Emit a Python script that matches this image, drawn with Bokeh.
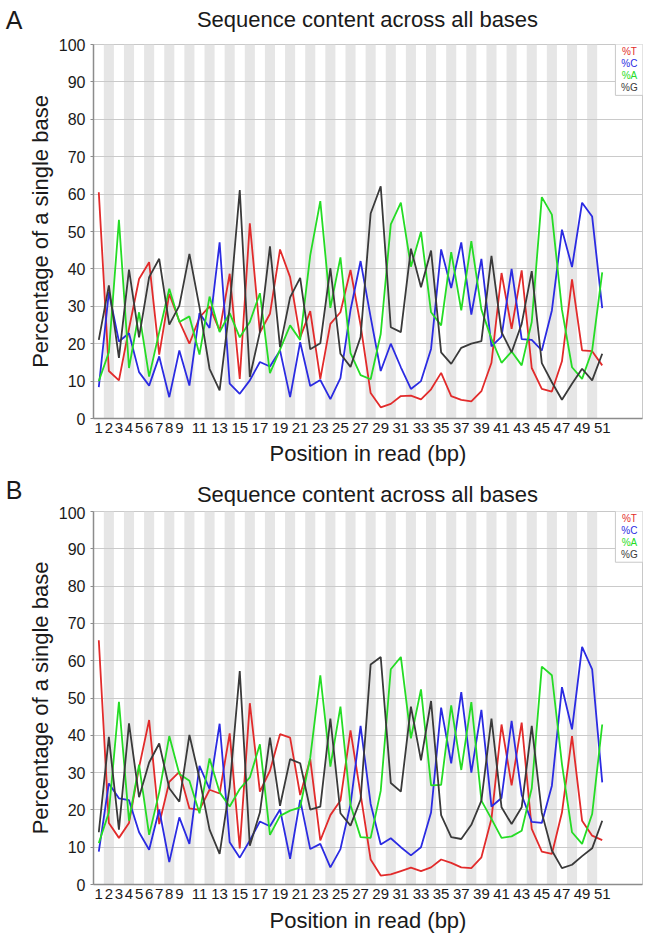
from bokeh.plotting import figure
from bokeh.layouts import column
from bokeh.models import FixedTicker, Range1d, ColumnDataSource
from bokeh.core.properties import value
from bokeh.embed import file_html
from bokeh.resources import INLINE

positions = list(range(1, 52))
x_tick_positions = list(range(1, 10)) + list(range(11, 52, 2))
y_ticks = list(range(0, 101, 10))
stripe_positions = list(range(2, 51, 2))
bases = ["%T", "%C", "%A", "%G"]
base_colors = ["#e22b2b", "#2b2be2", "#25dc25", "#3a3a3a"]
legend_y = [98.1, 94.9, 91.7, 88.5]

# Panel A
a_T = [60.5, 12.7, 10.2, 24.0, 37.3, 41.8, 17.1, 33.3, 26.0, 20.0,
       27.0, 30.0, 23.5, 38.7, 10.6, 52.2, 23.0, 28.0, 45.2, 37.8,
       21.7, 28.7, 10.6, 25.3, 28.4, 39.7, 25.0, 6.8, 3.0, 3.9,
       6.0, 6.1, 5.1, 7.8, 12.2, 6.0, 5.0, 4.6, 7.3, 14.9,
       38.9, 24.0, 39.6, 13.5, 7.9, 7.2, 15.3, 37.2, 18.2, 18.0, 14.2]
a_C = [8.4, 33.8, 20.6, 22.8, 12.4, 8.8, 16.6, 5.7, 18.2, 8.8,
       28.2, 24.2, 47.1, 9.3, 6.6, 10.2, 15.1, 13.9, 18.2, 5.7,
       20.4, 8.7, 10.3, 5.2, 10.8, 29.0, 42.1, 27.1, 12.7, 20.0,
       13.7, 7.9, 10.0, 18.6, 45.2, 34.9, 47.1, 27.8, 42.7, 19.3,
       21.9, 40.0, 21.2, 21.0, 18.2, 28.9, 50.5, 40.5, 57.7, 54.0, 29.5]
a_A = [10.0, 17.7, 53.1, 13.5, 28.4, 11.2, 23.1, 34.7, 25.8, 27.3,
       17.1, 32.6, 23.1, 28.2, 21.7, 25.8, 33.5, 12.1, 18.4, 24.9,
       21.0, 43.6, 58.1, 29.6, 43.1, 17.5, 11.6, 10.5, 22.6, 51.9,
       57.7, 40.6, 49.9, 28.4, 24.9, 44.5, 28.9, 47.4, 29.1, 21.3,
       14.9, 17.9, 14.2, 25.8, 59.2, 54.5, 29.1, 13.7, 10.6, 18.2, 39.1]
a_G = [21.0, 35.6, 16.2, 39.8, 21.7, 37.8, 42.7, 25.1, 30.2, 44.0,
       29.8, 13.3, 7.5, 29.8, 61.1, 11.1, 23.1, 46.0, 19.1, 32.4,
       37.6, 18.5, 20.1, 40.2, 17.3, 13.8, 21.8, 54.8, 62.1, 24.4,
       23.1, 45.4, 35.1, 44.9, 17.7, 14.6, 18.9, 20.0, 20.7, 43.5,
       23.1, 17.7, 25.3, 39.4, 14.8, 9.7, 5.0, 9.3, 13.3, 10.2, 17.3]

# Panel B
b_T = [65.5, 16.5, 12.5, 16.5, 31.4, 44.1, 16.2, 27.5, 30.2, 20.4,
       20.0, 25.4, 24.4, 40.5, 9.7, 48.6, 24.9, 30.5, 40.3, 39.4,
       24.0, 33.6, 11.8, 18.6, 22.5, 41.3, 24.2, 6.7, 2.4, 2.7,
       3.6, 4.5, 3.6, 4.6, 6.7, 5.8, 4.6, 4.4, 7.3, 17.6,
       42.9, 26.6, 43.4, 14.9, 8.8, 8.2, 19.3, 39.8, 17.1, 13.1, 11.9]
b_C = [8.8, 27.1, 23.1, 22.6, 14.0, 9.3, 20.1, 6.0, 18.0, 10.9,
       31.8, 25.6, 43.1, 11.3, 7.2, 11.8, 16.9, 15.6, 20.1, 6.9,
       22.7, 9.5, 10.9, 4.6, 9.5, 21.5, 42.5, 21.6, 10.7, 12.4,
       10.0, 7.8, 10.0, 19.3, 47.4, 32.5, 51.6, 30.0, 46.8, 20.9,
       23.2, 43.9, 24.0, 16.8, 16.5, 26.5, 52.9, 41.6, 63.7, 57.7, 27.4]
b_A = [11.1, 19.3, 49.0, 17.1, 32.1, 13.3, 24.7, 39.8, 29.6, 27.8,
       19.1, 33.8, 24.7, 20.9, 25.6, 28.7, 37.6, 13.3, 18.4, 19.8,
       20.7, 34.0, 56.1, 31.6, 47.7, 21.3, 12.7, 12.5, 25.1, 57.7,
       61.0, 39.2, 52.3, 26.6, 26.7, 48.0, 30.7, 48.9, 22.5, 17.6,
       12.5, 12.9, 14.4, 25.8, 58.4, 56.1, 32.3, 14.0, 10.9, 18.9, 42.9]
b_G = [14.0, 39.6, 14.7, 43.2, 23.4, 32.7, 37.8, 25.8, 22.2, 40.1,
       28.4, 14.7, 8.2, 26.2, 57.2, 10.4, 19.3, 39.4, 21.1, 33.6,
       32.5, 20.1, 20.9, 44.5, 19.1, 15.8, 22.8, 59.0, 61.0, 27.2,
       24.9, 47.7, 33.3, 49.2, 18.6, 12.7, 12.2, 16.0, 22.5, 44.5,
       20.7, 16.2, 20.7, 42.5, 19.2, 9.1, 4.4, 5.3, 7.6, 9.7, 17.1]

TITLE = "Sequence content across all bases"
XTITLE = "Position in read (bp)"
YTITLE = "Percentage of a single base"
FONT = "Liberation Sans"
TXT = "#1a1a1a"
W = 649
LEFT = 93
RIGHT = 7


def header(top_px, bottom_px, letter, letter_y, title_y):
    """Strip holding the panel letter (as a left tick label) and the title."""
    h = bottom_px - top_px
    s = figure(width=W, height=h, output_backend="svg", toolbar_location=None,
               x_range=Range1d(LEFT, W - RIGHT), y_range=Range1d(bottom_px, top_px),
               x_axis_location=None, y_axis_location="left",
               min_border_left=LEFT, min_border_right=RIGHT, min_border_top=0,
               min_border_bottom=0, outline_line_color=None)
    s.grid.visible = False
    ax = s.yaxis[0]
    ax.ticker = FixedTicker(ticks=[letter_y])
    ax.major_label_overrides = {letter_y: letter}
    ax.axis_line_color = None
    ax.major_tick_line_color = None
    ax.minor_tick_line_color = None
    ax.major_label_standoff = 65
    ax.major_label_text_font = FONT
    ax.major_label_text_font_size = "25px"
    ax.major_label_text_color = TXT
    s.text(x=[367], y=[title_y], text=[TITLE], text_align="center", text_baseline="middle",
           text_font=value(FONT), text_font_size="22px", text_color=TXT)
    return s


def panel(series, height, top, bottom, xstand):
    p = figure(width=W, height=height, output_backend="svg", toolbar_location=None,
               title=None, x_range=Range1d(0.474, 55.0), y_range=Range1d(0, 100),
               min_border_left=LEFT, min_border_right=RIGHT, min_border_top=top,
               min_border_bottom=bottom)
    p.xgrid.visible = False
    p.ygrid.visible = False
    p.outline_line_color = "#c8c8c8"

    p.quad(left=[s - 0.5 for s in stripe_positions], right=[s + 0.5 for s in stripe_positions],
           bottom=0, top=100, fill_color="#e6e6e6", line_color=None)
    p.hspan(y=y_ticks[1:-1], line_color="#cacaca", line_width=1)

    for vals, col in zip(series, base_colors):
        p.line(positions, vals, line_color=col, line_width=1.8)

    p.quad(left=[52.31], right=[56], bottom=[86.4], top=[101], fill_color="white",
           line_color="#c8c8c8", line_width=1)
    src = ColumnDataSource(dict(x=[53.7] * 4, y=legend_y, t=bases, c=base_colors))
    p.text(x="x", y="y", text="t", text_color="c", source=src, text_align="center",
           text_baseline="middle", text_font=value(FONT), text_font_size="10px")

    p.yaxis.ticker = FixedTicker(ticks=y_ticks)
    p.xaxis.ticker = FixedTicker(ticks=x_tick_positions)
    for ax in (p.xaxis, p.yaxis):
        ax.axis_line_color = "#8c8c8c"
        ax.axis_line_width = 1.5
        ax.major_tick_in = 0
        ax.minor_tick_in = 0
        ax.minor_tick_out = 0
        ax.major_label_text_font = FONT
        ax.major_label_text_color = TXT
        ax.major_tick_line_color = "#8c8c8c"
        ax.axis_label_text_font = FONT
        ax.axis_label_text_font_size = "22px"
        ax.axis_label_text_font_style = "normal"
        ax.axis_label_text_color = TXT
    p.xaxis.major_tick_out = 0
    p.xaxis.major_label_standoff = 4
    p.xaxis.major_label_text_font_size = "15px"
    p.xaxis.axis_label = XTITLE
    p.xaxis.axis_label_standoff = xstand
    p.yaxis.major_tick_out = 3
    p.yaxis.major_label_standoff = 5
    p.yaxis.major_label_text_font_size = "16px"
    p.yaxis.axis_label = YTITLE
    p.yaxis.axis_label_standoff = 3
    return p


head_a = header(0, 36, "A", 19, 19)
fig_a = panel([a_T, a_C, a_A, a_G], 434, 8, 52, 5)
head_b = header(470, 506, "B", 495, 493.5)
fig_b = panel([b_T, b_C, b_A, b_G], 429, 5, 50, 6)

layout = column(head_a, fig_a, head_b, fig_b, spacing=0)
open("out.html", "w").write(file_html(layout, INLINE))
